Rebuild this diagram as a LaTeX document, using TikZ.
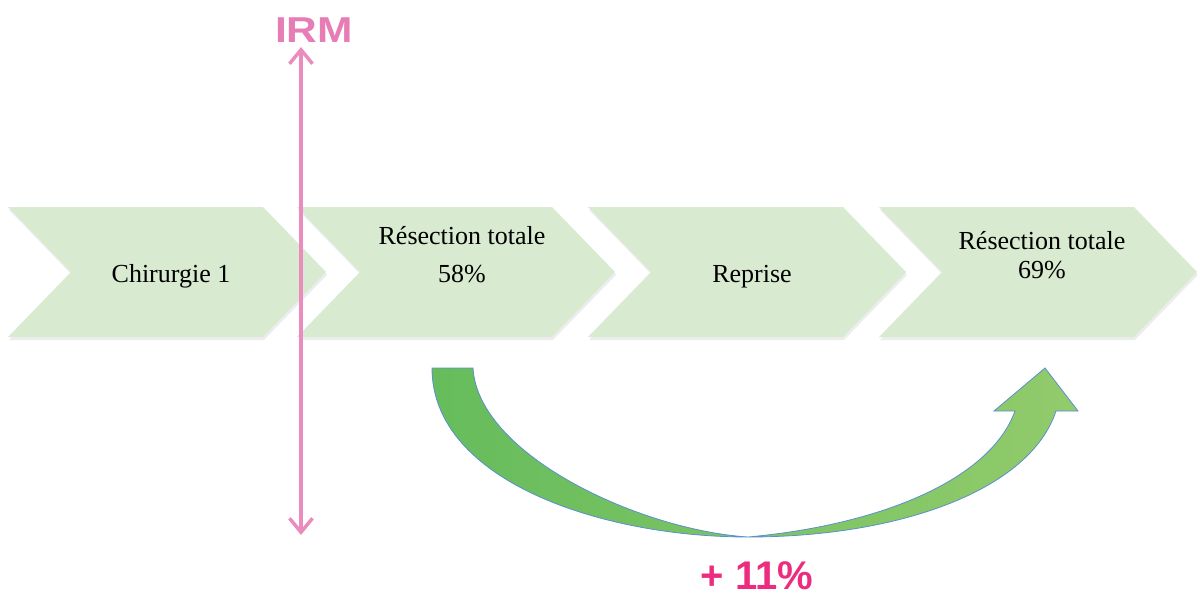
\documentclass[tikz,border=0pt]{standalone}
\usepackage{fontspec}
\setmainfont{Liberation Serif}
\newfontfamily\sansb{Liberation Sans}
\usetikzlibrary{arrows.meta}
\definecolor{chev}{HTML}{D8EAD0}
\definecolor{irm}{HTML}{E77DB5}
\definecolor{pinkline}{HTML}{EA8DBE}
\definecolor{plus}{HTML}{EC2C7E}
\definecolor{gA}{HTML}{66BC5C}
\definecolor{gB}{HTML}{92CB6B}
\definecolor{edge}{HTML}{5B8FD0}
\begin{document}
\begin{tikzpicture}[x=1pt,y=-1pt,
  lbl/.style={font=\fontsize{26}{30}\selectfont, anchor=base, inner sep=0pt},
  big/.style={font=\sansb\bfseries\fontsize{#1}{#1}\selectfont, anchor=base, inner sep=0pt}]
\useasboundingbox (0,0) rectangle (1198,596);
% chevrons
\foreach \x in {8,297,588,879} {
  \fill[black, opacity=0.07] (\x+1,210) -- ++(255,0) -- ++(63,65) -- ++(-63,65) -- ++(-255,0) -- ++(63,-65) -- cycle;
  \fill[chev] (\x,207) -- ++(255,0) -- ++(63,65) -- ++(-63,65) -- ++(-255,0) -- ++(63,-65) -- cycle;
}
% texts
\node[lbl] (c1) at (171,282) {Chirurgie 1};
\node[lbl] (r1a) at (462,244) {Résection totale};
\node[lbl] (r1b) at (462,282) {58\%};
\node[lbl] (rep) at (752,282) {Reprise};
\node[lbl] (r2a) at (1042,249) {Résection totale};
\node[lbl] (r2b) at (1042,278) {69\%};
% IRM arrow
\node[big=36, text=irm] (irm) at (314,43) {\scalebox{1.18}[1]{IRM}};
\coordinate (itop) at (301,47);
\coordinate (ibot) at (301,535);
\draw[pinkline, line width=3.5pt, {Straight Barb[length=14pt,width=23pt]}-{Straight Barb[length=14pt,width=23pt]}] (itop) -- (ibot);
% curved green arrow
\path[draw=edge, line width=0.8pt, left color=gA, right color=gB]
  (432,368) -- (473,368) .. controls (478,455) and (640,530) .. (748,537)
  .. controls (880,525) and (990,480) .. (1015,411) -- (994,411) -- (1045,368) -- (1078,411) -- (1056,411)
  .. controls (1030,490) and (900,537) .. (748,537)
  .. controls (600,537) and (432,480) .. (432,368) -- cycle;
\node[big=40, text=plus] (gain) at (757,589) {+ 11\%};
\end{tikzpicture}
\end{document}
